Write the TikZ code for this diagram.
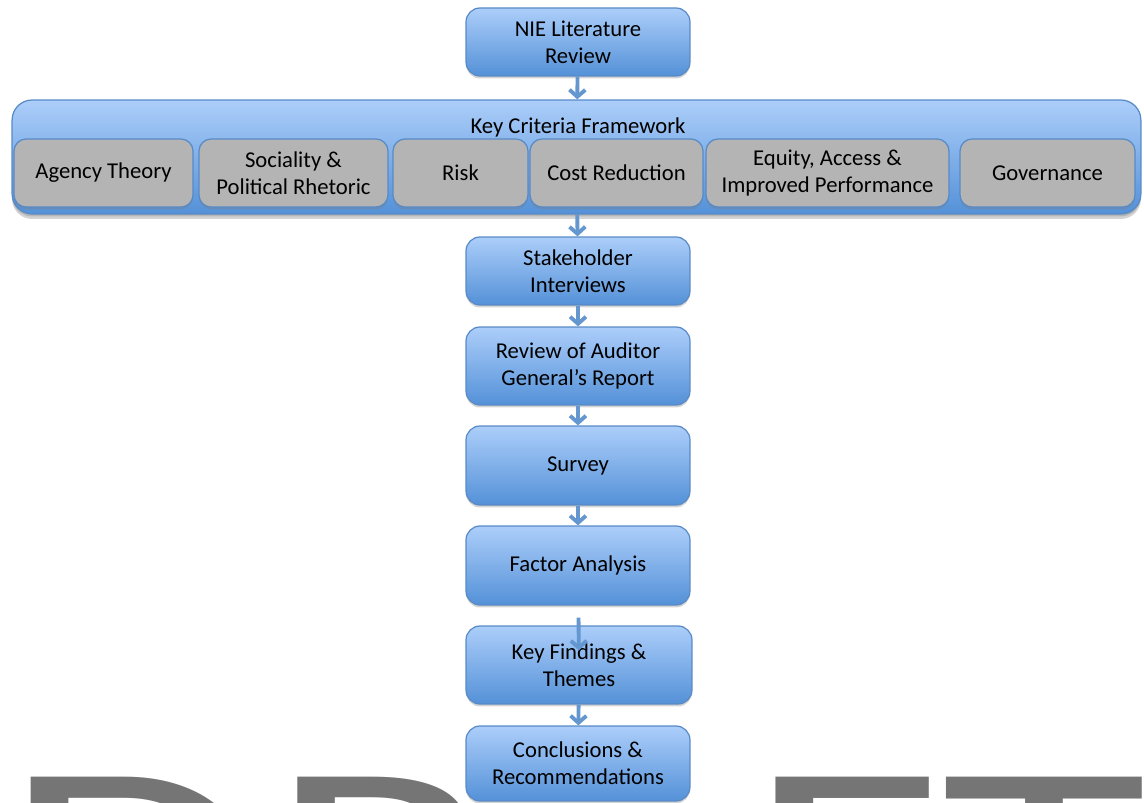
\documentclass[tikz,border=0pt]{standalone}
\usepackage{fontspec}
\setmainfont{Carlito}
\usetikzlibrary{arrows.meta,shadows}
\definecolor{boxtop}{RGB}{172,206,250}
\definecolor{boxbot}{RGB}{84,145,216}
\definecolor{boxline}{RGB}{88,138,198}
\definecolor{critfill}{RGB}{180,180,180}
\definecolor{arrcol}{RGB}{100,150,208}
\definecolor{wmark}{RGB}{117,117,117}
\tikzset{stp/.append style={draw=boxline, line width=0.7pt, rounded corners=0.28cm, top color=boxtop, bottom color=boxbot, align=center, font=\fontsize{12.9}{15.6}\selectfont, minimum width=4.48cm, inner sep=0pt, drop shadow={shadow xshift=0pt, shadow yshift=-0.05cm, opacity=0.35}}}
\tikzset{crit/.append style={draw=boxline, line width=0.7pt, rounded corners=0.24cm, fill=critfill, align=center, font=\fontsize{12.9}{15.6}\selectfont, minimum height=1.36cm, inner sep=0pt, drop shadow={shadow xshift=0pt, shadow yshift=-0.05cm, opacity=0.35}}}
\tikzset{arr/.append style={draw=arrcol, line width=2.2pt, -{Straight Barb[length=4pt,width=9pt]}}}
\tikzset{wm/.append style={text=wmark, font=\fontsize{168}{168}\selectfont, inner sep=0pt, anchor=base west}}

\begin{document}
\begin{tikzpicture}[x=0.02cm,y=-0.02cm]
                \useasboundingbox (0,0) rectangle (1144,803);
                \clip (0,0) rectangle (1144,803);
                % watermark
                \node[wm] (wD) at (2,967) {\scalebox{1.43}[1]{D}};
                \node[wm] (wR) at (267,967) {\scalebox{1.43}[1]{R}};
                \node[wm] (wF) at (747,967) {\scalebox{1.43}[1]{F}};
                \node[wm] (wT) at (941,967) {\scalebox{1.43}[1]{T}};
                % framework
                \node[stp, minimum width=22.58cm, minimum height=2.28cm, rounded corners=0.4cm,
                      drop shadow={shadow xshift=0pt, shadow yshift=-0.1cm, opacity=0.35}] (frame) at (576.5,157) {};
                \node[font=\fontsize{12.9}{15.6}\selectfont] (ftitle) at (578,127) {Key Criteria Framework};
                \node[crit, minimum width=3.58cm] (agency) at (103.5,173) {Agency Theory};
                \node[crit, minimum width=3.78cm] (social) at (293.5,173) {Sociality \&\\Political Rhetoric};
                \node[crit, minimum width=2.70cm] (risk) at (460.5,173) {Risk};
                \node[crit, minimum width=3.46cm] (cost) at (616.5,173) {Cost Reduction};
                \node[crit, minimum width=4.86cm] (equity) at (827.5,173) {Equity, Access \&\\Improved Performance};
                \node[crit, minimum width=3.50cm] (gov) at (1047.5,173) {Governance};
                % steps
                \node[stp, minimum height=1.36cm] (nie) at (578,42) {NIE Literature\\Review};
                \node[stp, minimum height=1.36cm] (stake) at (578,271) {Stakeholder\\Interviews};
                \node[stp, minimum height=1.56cm] (audit) at (578,366) {Review of Auditor\\General’s Report};
                \node[stp, minimum height=1.58cm] (survey) at (578,465.5) {Survey};
                \node[stp, minimum height=1.58cm] (factor) at (578,565.5) {Factor Analysis};
                \node[stp, minimum height=1.56cm, minimum width=4.52cm] (findings) at (579,665) {Key Findings \&\\Themes};
                \node[stp, minimum height=1.50cm] (concl) at (578,763.5) {Conclusions \&\\Recommendations};
                \path (nie) edge[arr] (frame);
                \path (frame) edge[arr] (stake);
                \path (stake) edge[arr] (audit);
                \path (audit) edge[arr] (survey);
                \path (survey) edge[arr] (factor);
                \path (factor) edge[arr, shorten <=0.24cm, shorten >=-0.5cm] (findings);
                \path (findings) edge[arr] (concl);
            \end{tikzpicture}
\end{document}
